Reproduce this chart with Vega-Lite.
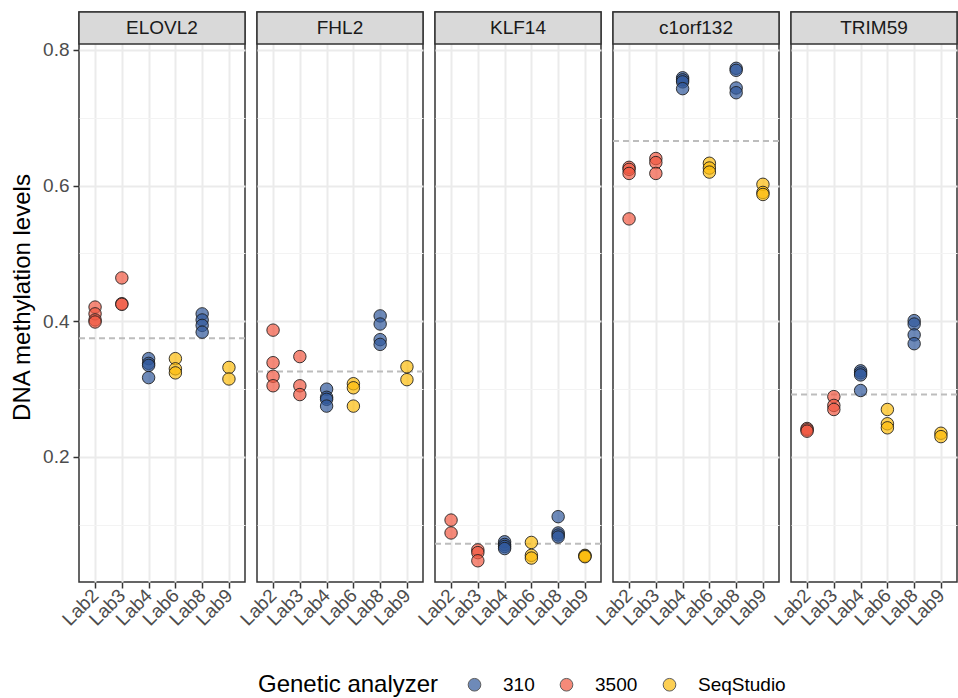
{
  "$schema": "https://vega.github.io/schema/vega-lite/v6.json",
  "padding": {"left": 10, "top": 10, "right": 0, "bottom": 2},
  "background": "white",
  "bounds": "flush",
  "data": {"values": [
    {"g":"ELOVL2","lab":"Lab2","ga":"3500","v":0.421,"ref":0.375},
    {"g":"ELOVL2","lab":"Lab2","ga":"3500","v":0.411,"ref":0.375},
    {"g":"ELOVL2","lab":"Lab2","ga":"3500","v":0.402,"ref":0.375},
    {"g":"ELOVL2","lab":"Lab2","ga":"3500","v":0.399,"ref":0.375},
    {"g":"ELOVL2","lab":"Lab3","ga":"3500","v":0.464,"ref":0.375},
    {"g":"ELOVL2","lab":"Lab3","ga":"3500","v":0.426,"ref":0.375},
    {"g":"ELOVL2","lab":"Lab3","ga":"3500","v":0.425,"ref":0.375},
    {"g":"ELOVL2","lab":"Lab4","ga":"310","v":0.345,"ref":0.375},
    {"g":"ELOVL2","lab":"Lab4","ga":"310","v":0.338,"ref":0.375},
    {"g":"ELOVL2","lab":"Lab4","ga":"310","v":0.335,"ref":0.375},
    {"g":"ELOVL2","lab":"Lab4","ga":"310","v":0.317,"ref":0.375},
    {"g":"ELOVL2","lab":"Lab6","ga":"SeqStudio","v":0.345,"ref":0.375},
    {"g":"ELOVL2","lab":"Lab6","ga":"SeqStudio","v":0.330,"ref":0.375},
    {"g":"ELOVL2","lab":"Lab6","ga":"SeqStudio","v":0.324,"ref":0.375},
    {"g":"ELOVL2","lab":"Lab8","ga":"310","v":0.411,"ref":0.375},
    {"g":"ELOVL2","lab":"Lab8","ga":"310","v":0.402,"ref":0.375},
    {"g":"ELOVL2","lab":"Lab8","ga":"310","v":0.394,"ref":0.375},
    {"g":"ELOVL2","lab":"Lab8","ga":"310","v":0.384,"ref":0.375},
    {"g":"ELOVL2","lab":"Lab9","ga":"SeqStudio","v":0.332,"ref":0.375},
    {"g":"ELOVL2","lab":"Lab9","ga":"SeqStudio","v":0.315,"ref":0.375},

    {"g":"FHL2","lab":"Lab2","ga":"3500","v":0.387,"ref":0.326},
    {"g":"FHL2","lab":"Lab2","ga":"3500","v":0.339,"ref":0.326},
    {"g":"FHL2","lab":"Lab2","ga":"3500","v":0.319,"ref":0.326},
    {"g":"FHL2","lab":"Lab2","ga":"3500","v":0.305,"ref":0.326},
    {"g":"FHL2","lab":"Lab3","ga":"3500","v":0.348,"ref":0.326},
    {"g":"FHL2","lab":"Lab3","ga":"3500","v":0.305,"ref":0.326},
    {"g":"FHL2","lab":"Lab3","ga":"3500","v":0.292,"ref":0.326},
    {"g":"FHL2","lab":"Lab4","ga":"310","v":0.300,"ref":0.326},
    {"g":"FHL2","lab":"Lab4","ga":"310","v":0.288,"ref":0.326},
    {"g":"FHL2","lab":"Lab4","ga":"310","v":0.285,"ref":0.326},
    {"g":"FHL2","lab":"Lab4","ga":"310","v":0.275,"ref":0.326},
    {"g":"FHL2","lab":"Lab6","ga":"SeqStudio","v":0.308,"ref":0.326},
    {"g":"FHL2","lab":"Lab6","ga":"SeqStudio","v":0.302,"ref":0.326},
    {"g":"FHL2","lab":"Lab6","ga":"SeqStudio","v":0.275,"ref":0.326},
    {"g":"FHL2","lab":"Lab8","ga":"310","v":0.408,"ref":0.326},
    {"g":"FHL2","lab":"Lab8","ga":"310","v":0.396,"ref":0.326},
    {"g":"FHL2","lab":"Lab8","ga":"310","v":0.373,"ref":0.326},
    {"g":"FHL2","lab":"Lab8","ga":"310","v":0.366,"ref":0.326},
    {"g":"FHL2","lab":"Lab9","ga":"SeqStudio","v":0.333,"ref":0.326},
    {"g":"FHL2","lab":"Lab9","ga":"SeqStudio","v":0.314,"ref":0.326},

    {"g":"KLF14","lab":"Lab2","ga":"3500","v":0.107,"ref":0.072},
    {"g":"KLF14","lab":"Lab2","ga":"3500","v":0.088,"ref":0.072},
    {"g":"KLF14","lab":"Lab3","ga":"3500","v":0.063,"ref":0.072},
    {"g":"KLF14","lab":"Lab3","ga":"3500","v":0.059,"ref":0.072},
    {"g":"KLF14","lab":"Lab3","ga":"3500","v":0.047,"ref":0.072},
    {"g":"KLF14","lab":"Lab4","ga":"310","v":0.075,"ref":0.072},
    {"g":"KLF14","lab":"Lab4","ga":"310","v":0.071,"ref":0.072},
    {"g":"KLF14","lab":"Lab4","ga":"310","v":0.068,"ref":0.072},
    {"g":"KLF14","lab":"Lab4","ga":"310","v":0.065,"ref":0.072},
    {"g":"KLF14","lab":"Lab6","ga":"SeqStudio","v":0.074,"ref":0.072},
    {"g":"KLF14","lab":"Lab6","ga":"SeqStudio","v":0.055,"ref":0.072},
    {"g":"KLF14","lab":"Lab6","ga":"SeqStudio","v":0.051,"ref":0.072},
    {"g":"KLF14","lab":"Lab8","ga":"310","v":0.112,"ref":0.072},
    {"g":"KLF14","lab":"Lab8","ga":"310","v":0.088,"ref":0.072},
    {"g":"KLF14","lab":"Lab8","ga":"310","v":0.085,"ref":0.072},
    {"g":"KLF14","lab":"Lab8","ga":"310","v":0.082,"ref":0.072},
    {"g":"KLF14","lab":"Lab9","ga":"SeqStudio","v":0.055,"ref":0.072},
    {"g":"KLF14","lab":"Lab9","ga":"SeqStudio","v":0.054,"ref":0.072},
    {"g":"KLF14","lab":"Lab9","ga":"SeqStudio","v":0.053,"ref":0.072},

    {"g":"c1orf132","lab":"Lab2","ga":"3500","v":0.627,"ref":0.666},
    {"g":"c1orf132","lab":"Lab2","ga":"3500","v":0.624,"ref":0.666},
    {"g":"c1orf132","lab":"Lab2","ga":"3500","v":0.618,"ref":0.666},
    {"g":"c1orf132","lab":"Lab2","ga":"3500","v":0.551,"ref":0.666},
    {"g":"c1orf132","lab":"Lab3","ga":"3500","v":0.640,"ref":0.666},
    {"g":"c1orf132","lab":"Lab3","ga":"3500","v":0.634,"ref":0.666},
    {"g":"c1orf132","lab":"Lab3","ga":"3500","v":0.618,"ref":0.666},
    {"g":"c1orf132","lab":"Lab4","ga":"310","v":0.759,"ref":0.666},
    {"g":"c1orf132","lab":"Lab4","ga":"310","v":0.756,"ref":0.666},
    {"g":"c1orf132","lab":"Lab4","ga":"310","v":0.753,"ref":0.666},
    {"g":"c1orf132","lab":"Lab4","ga":"310","v":0.743,"ref":0.666},
    {"g":"c1orf132","lab":"Lab6","ga":"SeqStudio","v":0.633,"ref":0.666},
    {"g":"c1orf132","lab":"Lab6","ga":"SeqStudio","v":0.626,"ref":0.666},
    {"g":"c1orf132","lab":"Lab6","ga":"SeqStudio","v":0.620,"ref":0.666},
    {"g":"c1orf132","lab":"Lab8","ga":"310","v":0.773,"ref":0.666},
    {"g":"c1orf132","lab":"Lab8","ga":"310","v":0.770,"ref":0.666},
    {"g":"c1orf132","lab":"Lab8","ga":"310","v":0.744,"ref":0.666},
    {"g":"c1orf132","lab":"Lab8","ga":"310","v":0.737,"ref":0.666},
    {"g":"c1orf132","lab":"Lab9","ga":"SeqStudio","v":0.602,"ref":0.666},
    {"g":"c1orf132","lab":"Lab9","ga":"SeqStudio","v":0.590,"ref":0.666},
    {"g":"c1orf132","lab":"Lab9","ga":"SeqStudio","v":0.587,"ref":0.666},

    {"g":"TRIM59","lab":"Lab2","ga":"3500","v":0.242,"ref":0.292},
    {"g":"TRIM59","lab":"Lab2","ga":"3500","v":0.240,"ref":0.292},
    {"g":"TRIM59","lab":"Lab2","ga":"3500","v":0.238,"ref":0.292},
    {"g":"TRIM59","lab":"Lab3","ga":"3500","v":0.289,"ref":0.292},
    {"g":"TRIM59","lab":"Lab3","ga":"3500","v":0.276,"ref":0.292},
    {"g":"TRIM59","lab":"Lab3","ga":"3500","v":0.270,"ref":0.292},
    {"g":"TRIM59","lab":"Lab4","ga":"310","v":0.327,"ref":0.292},
    {"g":"TRIM59","lab":"Lab4","ga":"310","v":0.324,"ref":0.292},
    {"g":"TRIM59","lab":"Lab4","ga":"310","v":0.321,"ref":0.292},
    {"g":"TRIM59","lab":"Lab4","ga":"310","v":0.298,"ref":0.292},
    {"g":"TRIM59","lab":"Lab6","ga":"SeqStudio","v":0.270,"ref":0.292},
    {"g":"TRIM59","lab":"Lab6","ga":"SeqStudio","v":0.249,"ref":0.292},
    {"g":"TRIM59","lab":"Lab6","ga":"SeqStudio","v":0.243,"ref":0.292},
    {"g":"TRIM59","lab":"Lab8","ga":"310","v":0.401,"ref":0.292},
    {"g":"TRIM59","lab":"Lab8","ga":"310","v":0.396,"ref":0.292},
    {"g":"TRIM59","lab":"Lab8","ga":"310","v":0.380,"ref":0.292},
    {"g":"TRIM59","lab":"Lab8","ga":"310","v":0.367,"ref":0.292},
    {"g":"TRIM59","lab":"Lab9","ga":"SeqStudio","v":0.235,"ref":0.292},
    {"g":"TRIM59","lab":"Lab9","ga":"SeqStudio","v":0.230,"ref":0.292}
  ]},
  "facet": {
    "column": {
      "field": "g",
      "type": "nominal",
      "sort": ["ELOVL2", "FHL2", "KLF14", "c1orf132", "TRIM59"],
      "header": {"labels": false, "title": null}
    }
  },
  "spacing": {"column": 12},
  "spec": {
    "width": 166,
    "height": 570,
    "layer": [
      {
        "mark": {"type": "rule", "color": "#bdbdbd", "strokeDash": [6, 4], "strokeWidth": 2},
        "encoding": {
          "y": {"field": "ref", "aggregate": "mean", "type": "quantitative"}
        }
      },
      {
        "mark": {"type": "circle", "size": 155, "fillOpacity": 0.7, "stroke": "#1a1a1a", "strokeWidth": 1, "strokeOpacity": 0.85},
        "encoding": {
          "x": {
            "field": "lab",
            "type": "ordinal",
            "sort": ["Lab2", "Lab3", "Lab4", "Lab6", "Lab8", "Lab9"],
            "scale": {"type": "point", "padding": 0.6},
            "axis": {
              "title": null,
              "labelAngle": -45,
              "labelAlign": "right",
              "labelBaseline": "middle",
              "labelFontSize": 19,
              "labelColor": "#4d4d4d",
              "labelPadding": 4,
              "tickSize": 6,
              "tickWidth": 1.5,
              "tickColor": "#333333",
              "domain": false,
              "grid": true,
              "gridColor": "#ebebeb",
              "gridWidth": 2
            }
          },
          "y": {
            "field": "v",
            "type": "quantitative",
            "scale": {"domain": [0.0157, 0.856], "nice": false, "zero": false},
            "axis": {
              "title": "DNA methylation levels",
              "titleFontSize": 24,
              "titleFontWeight": "normal",
              "titleColor": "black",
              "titlePadding": 8,
              "values": [0.1, 0.2, 0.3, 0.4, 0.5, 0.6, 0.7, 0.8],
              "labelExpr": "round(datum.value*10) % 2 == 0 ? format(datum.value, '.1f') : ''",
              "labelFontSize": 19,
              "labelColor": "#4d4d4d",
              "labelPadding": 4,
              "tickSize": 6,
              "tickWidth": 1.5,
              "tickColor": "#333333",
              "tickOpacity": {"condition": {"test": "round(datum.value*10) % 2 == 1", "value": 0}, "value": 1},
              "domain": false,
              "grid": true,
              "gridColor": {"condition": {"test": "round(datum.value*10) % 2 == 1", "value": "#f3f3f3"}, "value": "#ebebeb"},
              "gridWidth": {"condition": {"test": "round(datum.value*10) % 2 == 1", "value": 1}, "value": 2}
            }
          },
          "fill": {
            "field": "ga",
            "type": "nominal",
            "scale": {"domain": ["310", "3500", "SeqStudio"], "range": ["#31599b", "#f15941", "#fcbc0c"]},
            "legend": {
              "title": "Genetic analyzer",
              "orient": "none",
              "direction": "horizontal",
              "titleOrient": "left",
              "titleLimit": 500,
              "legendX": 179,
              "legendY": 663,
              "titleFontSize": 24,
              "titleFontWeight": "normal",
              "titleColor": "black",
              "titlePadding": 26,
              "labelFontSize": 19,
              "labelColor": "black",
              "labelOffset": 19,
              "symbolSize": 160,
              "symbolType": "circle",
              "symbolStrokeColor": "#1a1a1a",
              "symbolStrokeWidth": 1,
              "symbolOpacity": 0.7,
              "columnPadding": 22
            }
          }
        }
      },
      {
        "transform": [{"aggregate": [{"op": "count", "as": "n"}], "groupby": ["g"]}],
        "mark": {"type": "rect", "fill": "#d9d9d9", "stroke": "#333333", "strokeWidth": 1.5},
        "encoding": {
          "y": {"datum": 0.8088},
          "y2": {"datum": 0.856}
        }
      },
      {
        "transform": [{"aggregate": [{"op": "count", "as": "n"}], "groupby": ["g"]}],
        "mark": {"type": "text", "fontSize": 19, "color": "#1a1a1a", "baseline": "middle", "align": "center"},
        "encoding": {
          "y": {"datum": 0.8324},
          "text": {"field": "g"}
        }
      }
    ]
  },
  "config": {
    "font": "Liberation Sans",
    "view": {"stroke": "#333333", "strokeWidth": 1.5}
  }
}
